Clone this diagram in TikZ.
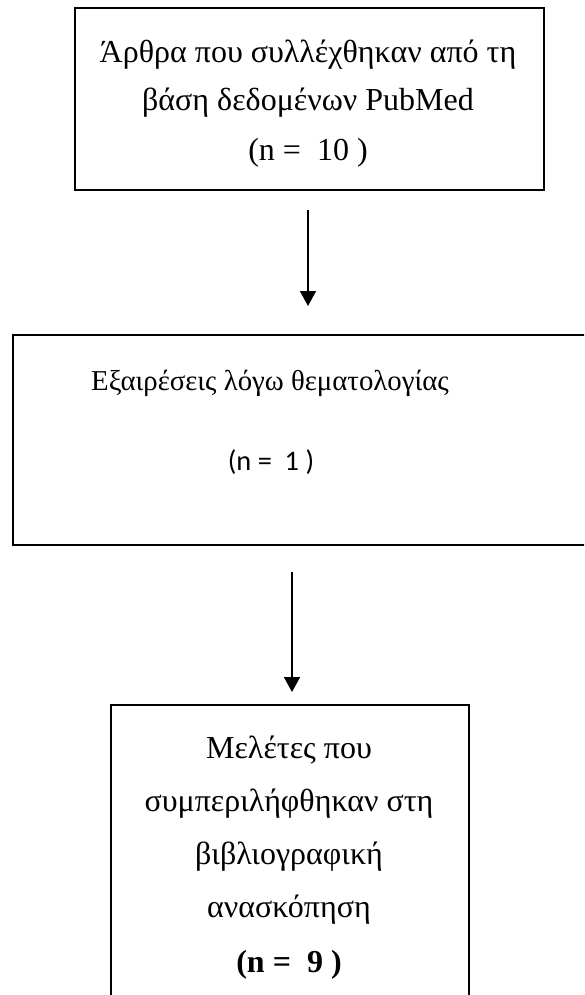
\documentclass[tikz,border=0pt]{standalone}
\usepackage{fontspec}
\setmainfont{Liberation Serif}
\newfontfamily\numfont{Carlito}
\usetikzlibrary{arrows.meta}

\begin{document}
\begin{tikzpicture}[
  x=0.5pt, y=-0.5pt,
  box/.style={draw, line width=1pt, inner sep=0pt, anchor=north west},
  txt/.style={inner sep=0pt, anchor=base, font=\fontsize{16}{19}\selectfont},
  arr/.style={draw, line width=0.9pt, -{Triangle[length=7.5pt, width=8pt]}}
]
  \useasboundingbox (0,0) rectangle (584,995);
  \clip (0,0) rectangle (584,995);

  % boxes
  \node[box, minimum width=234.5pt, minimum height=91pt]  (src)  at (74,7)   {};
  \node[box, minimum width=300pt,   minimum height=105pt] (excl) at (12,334) {};
  \node[box, minimum width=179pt,   minimum height=160pt] (incl) at (110,704) {};

  % texts
  \node[txt] (src1) at (308,63)  {Άρθρα που συλλέχθηκαν από τη};
  \node[txt] (src2) at (308,111) {βάση δεδομένων PubMed};
  \node[txt] (src3) at (308,160) {(n = \ 10 )};

  \node[txt, font=\fontsize{14.4}{18}\selectfont] (excl1) at (270,390) {Εξαιρέσεις λόγω θεματολογίας};
  \node[txt, font=\fontsize{14.2}{18}\selectfont\numfont] (excl2) at (271,470) {(n = \ 1 )};

  \node[txt] (incl1) at (289,758) {Μελέτες που};
  \node[txt] (incl2) at (289,811) {συμπεριλήφθηκαν στη};
  \node[txt] (incl3) at (289,864) {βιβλιογραφική};
  \node[txt] (incl4) at (289,917) {ανασκόπηση};
  \node[txt, font=\fontsize{16}{19}\selectfont\bfseries] (incl5) at (289,972) {(n = \ 9 )};

  % arrows
  \coordinate (a1s) at (308,210);
  \coordinate (a1e) at (308,306);
  \coordinate (a2s) at (292,572);
  \coordinate (a2e) at (292,692);
  \draw[arr] (a1s) -- (a1e);
  \draw[arr] (a2s) -- (a2e);
\end{tikzpicture}
\end{document}
